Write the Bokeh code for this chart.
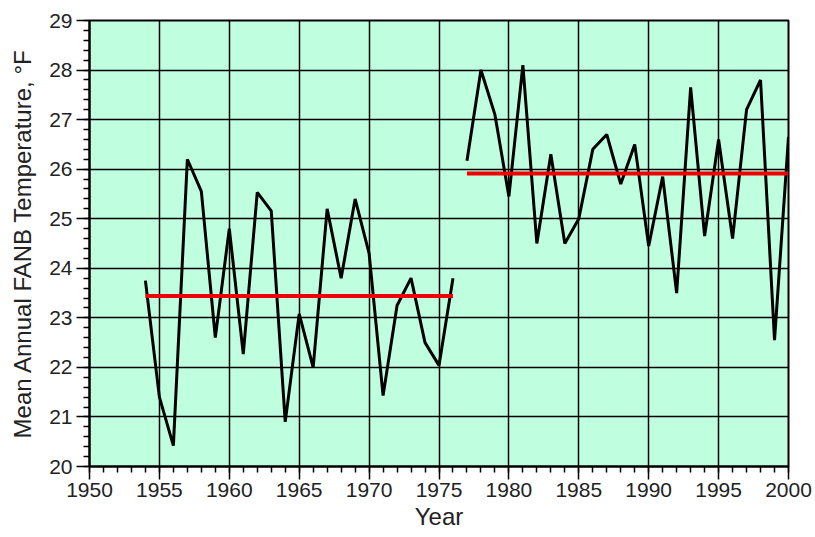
import numpy as np
from bokeh.plotting import figure
from bokeh.models import Range1d, FixedTicker
from bokeh.embed import file_html
from bokeh.resources import INLINE

# Period 1 (1954-1976)
years1 = list(range(1954, 1977))
temps1 = [23.75, 21.4, 20.42, 26.2, 25.55, 22.6, 24.8, 22.27, 25.53, 25.16,
          20.9, 23.08, 22.0, 25.2, 23.8, 25.4, 24.3, 21.43, 23.25, 23.8,
          22.5, 22.04, 23.8]

# Period 2 (1977-2000)
years2 = list(range(1977, 2001))
temps2 = [26.17, 28.0, 27.1, 25.45, 28.1, 24.5, 26.3, 24.5, 25.0, 26.4,
          26.7, 25.7, 26.5, 24.45, 25.85, 23.5, 27.65, 24.65, 26.6, 24.6,
          27.2, 27.8, 22.55, 26.65]

x_ticks = [1950, 1955, 1960, 1965, 1970, 1975, 1980, 1985, 1990, 1995, 2000]
x_minor = list(range(1950, 2001))
y_ticks = list(range(20, 30))
y_minor = [round(20 + 0.2 * i, 1) for i in range(46)]

mean1 = float(np.mean(temps1))
mean2 = float(np.mean(temps2))

FONT = "Liberation Sans"

p = figure(width=812, height=535,
           x_range=Range1d(1950, 2000), y_range=Range1d(20, 29),
           output_backend="svg", toolbar_location=None,
           min_border_left=89, min_border_right=24,
           min_border_top=20, min_border_bottom=69)

p.background_fill_color = "#BFFFE0"
p.border_fill_color = "white"
p.outline_line_color = "black"
p.outline_line_width = 2

p.xaxis.ticker = FixedTicker(ticks=x_ticks, minor_ticks=x_minor)
p.yaxis.ticker = FixedTicker(ticks=y_ticks, minor_ticks=y_minor)

for ax in (p.xaxis, p.yaxis):
    ax.axis_line_color = "black"
    ax.axis_line_width = 2
    ax.major_tick_line_color = "black"
    ax.major_tick_line_width = 1.5
    ax.major_tick_out = 13
    ax.major_tick_in = 0
    ax.minor_tick_line_color = "black"
    ax.minor_tick_line_width = 1.5
    ax.minor_tick_out = 6
    ax.minor_tick_in = 0
    ax.major_label_text_font = FONT
    ax.major_label_text_font_size = "21px"
    ax.major_label_text_color = "#222222"
    ax.axis_label_text_font = FONT
    ax.axis_label_text_font_size = "24px"
    ax.axis_label_text_font_style = "normal"
    ax.axis_label_text_color = "#222222"

p.xaxis.axis_label = "Year"
p.yaxis.axis_label = "Mean Annual FANB Temperature, \u00b0F"
p.xaxis.major_label_standoff = 3
p.yaxis.major_label_standoff = 4
p.xaxis.axis_label_standoff = 3
p.yaxis.axis_label_standoff = 10

for g in (p.xgrid, p.ygrid):
    g.grid_line_color = "black"
    g.grid_line_width = 1.5
    g.grid_line_alpha = 1.0

p.line(years1, temps1, line_color="black", line_width=3)
p.line(years2, temps2, line_color="black", line_width=3)

p.line([years1[0], years1[-1]], [mean1, mean1], line_color="#EE0000", line_width=4)
p.line([years2[0], years2[-1]], [mean2, mean2], line_color="#EE0000", line_width=4)

open("out.html", "w").write(file_html(p, INLINE))
